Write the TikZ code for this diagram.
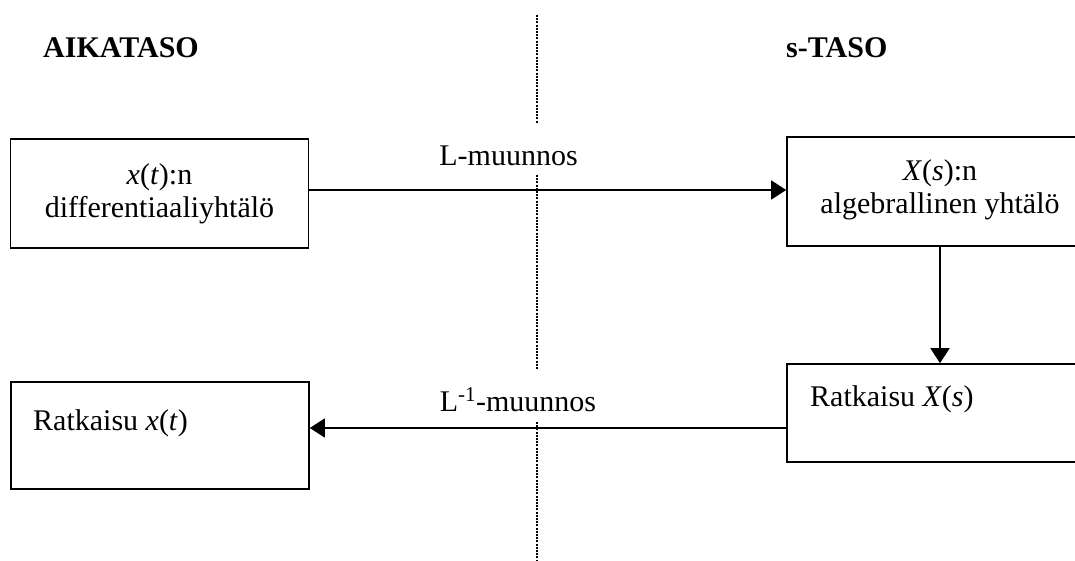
\documentclass[tikz,border=0pt]{standalone}
\usepackage{fontspec}
\setmainfont{Liberation Serif}
\usetikzlibrary{arrows.meta}
\tikzset{
  txt/.style={font=\fontsize{30pt}{33pt}\selectfont, inner sep=0pt},
  boxnode/.style={draw, line width=1.6pt, inner sep=0pt, font=\fontsize{30pt}{33pt}\selectfont, align=center},
  arr/.style={line width=1.5pt, -{Triangle[length=15pt,width=19pt]}},
  divider/.style={line width=1.2pt, dash pattern=on 2pt off 1.2pt}
}
\begin{document}
\begin{tikzpicture}[x=1pt,y=-1pt]
\useasboundingbox (0,0) rectangle (1075,561);
\clip (0,0) rectangle (1075,561);
\fill[white] (0,0) rectangle (1075,561);

% headings
\node[txt, anchor=base west] (h1) at (43,58) {\textbf{AIKATASO}};
\node[txt, anchor=base west] (h2) at (786,58) {\textbf{s-TASO}};

% dividing line
\coordinate (d0) at (537,15);
\coordinate (d1) at (537,123);
\coordinate (d2) at (537,175);
\coordinate (d3) at (537,370);
\coordinate (d4) at (537,422);
\coordinate (d5) at (537,560);
\draw[divider] (d0) -- (d1);
\draw[divider] (d2) -- (d3);
\draw[divider] (d4) -- (d5);

% boxes
\node[boxnode, minimum width=298pt, minimum height=109pt] (box1) at (159.5,193.5)
  {\textit{x}(\textit{t}):n\\differentiaaliyhtälö};
\node[boxnode, minimum width=306pt, minimum height=109pt] (box2) at (940,191.5) {};
\node[txt, align=center] (t2) at (940,190) {\textit{X}(\textit{s}):n\\algebrallinen yhtälö};
\node[boxnode, minimum width=306pt, minimum height=98pt] (box3) at (940,413) {};
\node[txt, anchor=base west] (t3) at (810,406) {Ratkaisu \textit{X}(\textit{s})};
\node[boxnode, minimum width=298pt, minimum height=107pt] (box4) at (160,435.5) {};
\node[txt, anchor=base west] (t4) at (33,430) {Ratkaisu \textit{x}(\textit{t})};

% labels
\node[txt, anchor=base] (l1) at (508.5,166) {L-muunnos};
\node[txt, anchor=base] (l2) at (518,411) {L\textsuperscript{-1}-muunnos};

% connectors
\draw[arr] ([yshift=3.5pt]box1.east) coordinate (s1) -- (s1 -| box2.west);
\draw[arr] (box2.south) -- (box3.north);
\draw[arr] ([yshift=-15pt]box3.west) coordinate (s2) -- (s2 -| box4.east);
\end{tikzpicture}
\end{document}
